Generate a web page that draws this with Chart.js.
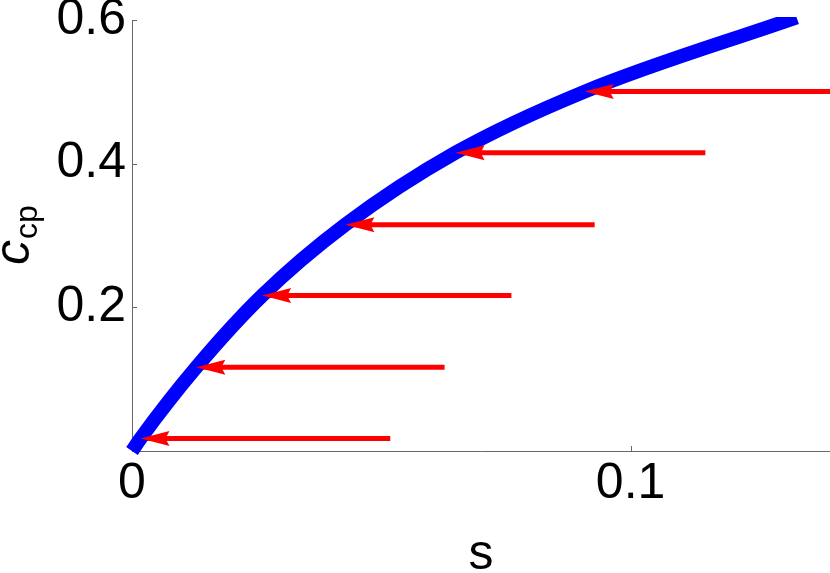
<!DOCTYPE html>
<html>
<head>
<meta charset="utf-8">
<script src="https://cdn.jsdelivr.net/npm/chart.js@4/dist/chart.umd.min.js"></script>
<style>
  html, body { margin: 0; padding: 0; background: #fff; }
  canvas { display: block; }
</style>
</head>
<body>
<canvas id="ccpChart" width="830" height="573"></canvas>
<script>
// blue curve c_cp(s)
const curveS = [0, 0.0017, 0.0129, 0.0261, 0.0428, 0.0649, 0.0908, 0.1333];
const curveC = [0, 0.0173, 0.1165, 0.2163, 0.3151, 0.4153, 0.5003, 0.6036];

// red arrows, tail on the right, tip on the curve
const arrowC = [0.0173, 0.1165, 0.2163, 0.3151, 0.4153, 0.5003];
const arrowTailS = [0.0518, 0.0627, 0.0761, 0.0928, 0.1150, 0.1408];
const arrowTipS = [0.0017, 0.0129, 0.0261, 0.0428, 0.0649, 0.0908];

// axes
const xTicks = [0, 0.1];
const xTickLabels = ["0", "0.1"];
const yTicks = [0.2, 0.4, 0.6];
const yTickLabels = ["0.2", "0.4", "0.6"];

const FONT = "'Liberation Sans', Arial, sans-serif";
const AXIS_GRAY = "#666";

const datasets = [{
    data: curveS.map((s, i) => ({ x: s, y: curveC[i] })),
    borderColor: "#0000ff",
    borderWidth: 14,
    borderCapStyle: "butt",
    showLine: true,
    pointRadius: 0,
    cubicInterpolationMode: "monotone",
    clip: { left: 12, top: 3, right: 0, bottom: 12 }
}];

arrowC.forEach((c, i) => {
    datasets.push({
        data: [{ x: arrowTailS[i], y: c }, { x: arrowTipS[i], y: c }],
        borderColor: "#ff0000",
        borderWidth: 5,
        borderCapStyle: "butt",
        showLine: true,
        pointRadius: 0,
        clip: { left: 5, top: 5, right: 0, bottom: 5 }
    });
});

// arrow heads at the tips, drawn over the curve
const arrowHeads = {
    id: "arrowHeads",
    afterDatasetsDraw(chart) {
        const { ctx, scales: { x, y } } = chart;
        ctx.save();
        ctx.fillStyle = "#ff0000";
        arrowC.forEach((c, i) => {
            const px = x.getPixelForValue(arrowTipS[i]);
            const py = y.getPixelForValue(c);
            ctx.beginPath();
            ctx.moveTo(px, py);
            ctx.lineTo(px + 29, py - 7.5);
            ctx.lineTo(px + 25, py);
            ctx.lineTo(px + 29, py + 7.5);
            ctx.closePath();
            ctx.fill();
        });
        ctx.restore();
    }
};

// short tick marks pointing into the plot
const innerTicks = {
    id: "innerTicks",
    beforeDatasetsDraw(chart) {
        const { ctx, chartArea, scales: { x, y } } = chart;
        ctx.save();
        ctx.strokeStyle = AXIS_GRAY;
        ctx.lineWidth = 1;
        ctx.beginPath();
        xTicks.forEach(v => {
            const px = Math.round(x.getPixelForValue(v)) + 0.5;
            ctx.moveTo(px, chartArea.bottom);
            ctx.lineTo(px, chartArea.bottom - 5);
        });
        yTicks.forEach(v => {
            const py = Math.round(y.getPixelForValue(v)) + 0.5;
            ctx.moveTo(chartArea.left, py);
            ctx.lineTo(chartArea.left + 5, py);
        });
        ctx.stroke();
        ctx.restore();
    }
};

// y axis title: c with subscript cp
const yTitle = {
    id: "yTitle",
    afterDraw(chart) {
        const { ctx } = chart;
        ctx.save();
        ctx.translate(29, 265);
        ctx.rotate(-Math.PI / 2);
        ctx.fillStyle = "#000";
        ctx.textAlign = "left";
        ctx.textBaseline = "alphabetic";
        ctx.font = "italic 50px " + FONT;
        ctx.fillText("c", 0, 0);
        const w = ctx.measureText("c").width;
        ctx.font = "32px " + FONT;
        ctx.fillText("cp", w + 1, 8);
        ctx.restore();
    }
};

new Chart(document.getElementById("ccpChart"), {
    type: "scatter",
    data: { datasets },
    plugins: [innerTicks, arrowHeads, yTitle],
    options: {
        responsive: false,
        animation: false,
        events: [],
        layout: { padding: { top: 20, left: 0, right: 0, bottom: 0 } },
        plugins: {
            legend: { display: false },
            tooltip: { enabled: false }
        },
        scales: {
            x: {
                type: "linear",
                min: 0,
                max: 0.14,
                afterBuildTicks: scale => { scale.ticks = xTicks.map(v => ({ value: v })); },
                afterFit: scale => {
                    scale.height = 122;
                    scale.paddingLeft = 0;
                    scale.paddingRight = 0;
                },
                ticks: {
                    color: "#000",
                    padding: 3,
                    maxRotation: 0,
                    font: { family: FONT, size: 50 },
                    callback: (value, index) => xTickLabels[index]
                },
                grid: { drawOnChartArea: false, drawTicks: false },
                border: { color: AXIS_GRAY, width: 1 },
                title: {
                    display: true,
                    text: "s",
                    color: "#000",
                    padding: { top: 0, bottom: 0 },
                    font: { family: FONT, size: 50, lineHeight: 0.72 }
                }
            },
            y: {
                type: "linear",
                min: 0,
                max: 0.6,
                afterBuildTicks: scale => { scale.ticks = yTicks.map(v => ({ value: v })); },
                afterFit: scale => {
                    scale.width = 132;
                    scale.paddingTop = 0;
                    scale.paddingBottom = 0;
                },
                ticks: {
                    color: "#000",
                    padding: 6,
                    font: { family: FONT, size: 50 },
                    callback: (value, index) => yTickLabels[index]
                },
                grid: { drawOnChartArea: false, drawTicks: false },
                border: { color: AXIS_GRAY, width: 1 }
            }
        }
    }
});
</script>
</body>
</html>
